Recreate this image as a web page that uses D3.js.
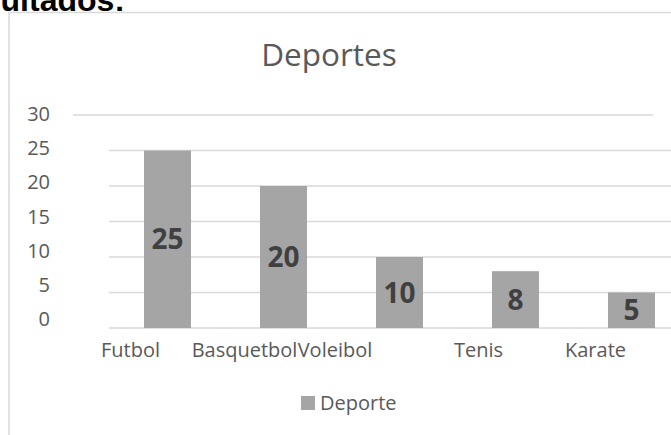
<!DOCTYPE html>
<html>
<head>
<meta charset="utf-8">
<script src="https://cdn.jsdelivr.net/npm/d3@7"></script>
<style>
  body { margin: 0; background: #fff; }
  svg { display: block; font-family: "Open Sans", sans-serif; }
</style>
</head>
<body>
<svg id="chart" width="671" height="435"></svg>
<script>
// values
let categories = ['Futbol', 'Basquetbol', 'Voleibol', 'Tenis', 'Karate'];
let values = [25, 20, 10, 8, 5];
let tickValues = [0, 5, 10, 15, 20, 25, 30];
let seriesName = 'Deporte';
let chartTitle = 'Deportes';

let svg = d3.select('#chart');
let W = 671, H = 435;

// text above the chart, cut off by the top edge in the original too
svg.append('text')
  .attr('x', 125)
  .attr('y', 11)
  .attr('text-anchor', 'end')
  .style('font-family', '"Liberation Sans", Arial, sans-serif')
  .style('font-weight', 'bold')
  .style('font-size', '32px')
  .attr('fill', '#000')
  .text('Resultados:');

// chart area frame (right/bottom edges fall outside the window)
svg.append('rect')
  .attr('x', 9).attr('y', 12.5)
  .attr('width', W + 20).attr('height', H + 20)
  .attr('fill', '#fff')
  .attr('stroke', '#d9d9d9')
  .attr('stroke-width', 1.5);

let x = d3.scaleBand()
  .domain(categories)
  .range([109.5, 689.5])
  .paddingInner(0.595)
  .paddingOuter(0.2975);

let y = d3.scaleLinear().domain([0, 30]).range([328, 115]);
// tick labels sit a bit off the gridlines in the original
let yLabel = d3.scaleLinear().domain([0, 30]).range([319, 113.7]);

// title
svg.append('text')
  .attr('x', 329)
  .attr('y', 65.7)
  .attr('text-anchor', 'middle')
  .style('font-size', '31.5px')
  .attr('fill', '#595959')
  .text(chartTitle);

// gridlines
svg.append('g').selectAll('line')
  .data(tickValues)
  .join('line')
  .attr('x1', d => d == 30 ? 73 : 109)
  .attr('x2', d => d == 30 ? 653 : W)
  .attr('y1', d => y(d))
  .attr('y2', d => y(d))
  .attr('stroke', '#d9d9d9')
  .attr('stroke-width', 1.3);

// y tick labels
svg.append('g').selectAll('text')
  .data(tickValues)
  .join('text')
  .attr('x', 50)
  .attr('y', d => yLabel(d))
  .attr('dy', '0.36em')
  .attr('text-anchor', 'end')
  .style('font-size', '20px')
  .attr('fill', '#595959')
  .text(d => d);

// bars
svg.append('g').selectAll('rect')
  .data(values)
  .join('rect')
  .attr('x', (d, i) => x(categories[i]))
  .attr('y', d => y(d))
  .attr('width', x.bandwidth())
  .attr('height', d => y(0) - y(d))
  .attr('fill', '#a5a5a5');

// data labels, centred in the bars
svg.append('g').selectAll('text')
  .data(values)
  .join('text')
  .attr('x', (d, i) => x(categories[i]) + x.bandwidth() / 2)
  .attr('y', d => (y(d) + y(0)) / 2)
  .attr('dy', '0.36em')
  .attr('text-anchor', 'middle')
  .style('font-size', '28px')
  .style('font-weight', 'bold')
  .attr('fill', '#404040')
  .text(d => d);

// category labels, shifted left like in the original
let labelNudge = [-37, -39, -64.5, -37, -36];
svg.append('g').selectAll('text')
  .data(categories)
  .join('text')
  .attr('x', (d, i) => x(d) + x.bandwidth() / 2 + labelNudge[i])
  .attr('y', 357)
  .attr('text-anchor', 'middle')
  .style('font-size', '20px')
  .attr('fill', '#595959')
  .text(d => d);

// legend
let legend = svg.append('g').attr('transform', 'translate(301,396)');
legend.append('rect')
  .attr('width', 14).attr('height', 14)
  .attr('fill', '#a5a5a5');
legend.append('text')
  .attr('x', 19)
  .attr('y', 7)
  .attr('dy', '0.36em')
  .style('font-size', '20px')
  .attr('fill', '#595959')
  .text(seriesName);
</script>
</body>
</html>
